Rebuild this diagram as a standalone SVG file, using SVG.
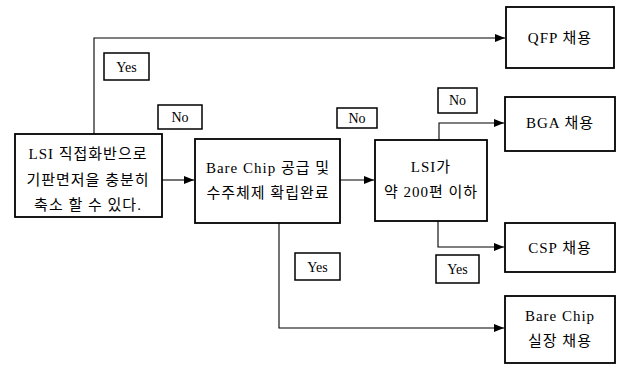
<svg xmlns="http://www.w3.org/2000/svg" width="618" height="368" viewBox="0 0 618 368">
<style>
.box{fill:#fff;stroke:#000;stroke-width:1.8}
.lbl{fill:#fff;stroke:#000;stroke-width:1.5}
.t{font-family:"Liberation Serif","Noto Sans CJK KR",serif;font-size:15px;letter-spacing:1px;fill:#000;text-anchor:middle;dominant-baseline:central}
.s{font-family:"Liberation Serif",serif;font-size:14px;fill:#000;text-anchor:middle;dominant-baseline:central}
.c{fill:none;stroke:#000;stroke-width:1.1}
</style>
<defs>
<marker id="ah" viewBox="0 0 10 8" refX="10" refY="4" markerWidth="10" markerHeight="8" markerUnits="userSpaceOnUse" orient="auto">
<path d="M0,0 L10,4 L0,8 Z" fill="#000"/>
</marker>
</defs>
<g id="connectors">
<path class="c" d="M94,134 V38 H505" marker-end="url(#ah)"/>
<path class="c" d="M162,180 H194" marker-end="url(#ah)"/>
<path class="c" d="M340,180 H374" marker-end="url(#ah)"/>
<path class="c" d="M439,140 V123 H504" marker-end="url(#ah)"/>
<path class="c" d="M438,221 V247 H504" marker-end="url(#ah)"/>
<path class="c" d="M279,223 V328 H504" marker-end="url(#ah)"/>
</g>
<g id="n1"><rect class="box" x="15" y="134" width="147" height="83"/>
<text class="t" x="88" y="154">LSI 직접화반으로</text>
<text class="t" x="88" y="180">기판면저을 충분히</text>
<text class="t" x="88" y="205">축소 할 수 있다.</text></g>
<g id="n2"><rect class="box" x="195" y="139" width="145" height="84"/>
<text class="t" x="268" y="168">Bare Chip 공급 및</text>
<text class="t" x="268" y="193">수주체제 확립완료</text></g>
<g id="n3"><rect class="box" x="375" y="140" width="112" height="81"/>
<text class="t" x="431" y="167">LSI가</text>
<text class="t" x="431" y="192">약 200편 이하</text></g>
<g id="n4"><rect class="box" x="506" y="7" width="108" height="61"/>
<text class="t" x="560" y="38">QFP 채용</text></g>
<g id="n5"><rect class="box" x="505" y="97" width="110" height="54"/>
<text class="t" x="560" y="123">BGA 채용</text></g>
<g id="n6"><rect class="box" x="505" y="223" width="110" height="49"/>
<text class="t" x="560" y="248">CSP 채용</text></g>
<g id="n7"><rect class="box" x="505" y="296" width="110" height="67"/>
<text class="t" x="560" y="316">Bare Chip</text>
<text class="t" x="560" y="341">실장 채용</text></g>
<g id="l1"><rect class="lbl" x="104" y="53" width="45" height="27"/><text class="s" x="126.500" y="67">Yes</text></g>
<g id="l2"><rect class="lbl" x="158" y="105" width="44" height="24"/><text class="s" x="180" y="117">No</text></g>
<g id="l3"><rect class="lbl" x="337" y="108" width="40" height="20"/><text class="s" x="357" y="118">No</text></g>
<g id="l4"><rect class="lbl" x="438" y="88" width="39" height="25"/><text class="s" x="457.500" y="100">No</text></g>
<g id="l5"><rect class="lbl" x="295" y="253" width="45" height="27"/><text class="s" x="317.500" y="267">Yes</text></g>
<g id="l6"><rect class="lbl" x="436" y="255" width="43" height="28"/><text class="s" x="457.500" y="269">Yes</text></g>
</svg>
